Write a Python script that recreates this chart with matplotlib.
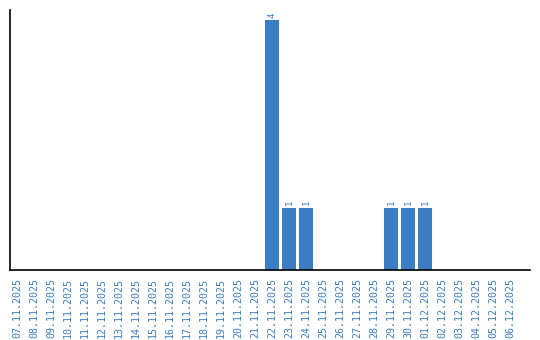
import matplotlib
matplotlib.use("Agg")
import matplotlib.pyplot as plt

dates = ["07.11.2025", "08.11.2025", "09.11.2025", "10.11.2025", "11.11.2025",
         "12.11.2025", "13.11.2025", "14.11.2025", "15.11.2025", "16.11.2025",
         "17.11.2025", "18.11.2025", "19.11.2025", "20.11.2025", "21.11.2025",
         "22.11.2025", "23.11.2025", "24.11.2025", "25.11.2025", "26.11.2025",
         "27.11.2025", "28.11.2025", "29.11.2025", "30.11.2025", "01.12.2025",
         "02.12.2025", "03.12.2025", "04.12.2025", "05.12.2025", "06.12.2025"]
counts = [0, 0, 0, 0, 0, 0, 0, 0, 0, 0, 0, 0, 0, 0, 0,
          4, 1, 1, 0, 0, 0, 0, 1, 1, 1, 0, 0, 0, 0, 0]

bar_color = "#3b7dc4"
text_color = "#3a7dc4"

fig = plt.figure(figsize=(5.4, 3.4), dpi=100)
ax = fig.add_axes([10/540, 70/340, 520/540, 260/340])

x = list(range(len(dates)))
ax.bar(x, counts, width=0.82, color=bar_color)

for xi, c in zip(x, counts):
    if c > 0:
        ax.text(xi, c + 0.04, str(c), rotation=90, ha="center", va="bottom",
                color=text_color, fontsize=6.5, family="DejaVu Sans Mono")

ax.set_xlim(-0.41, 30.18)
ax.set_ylim(0, 4.16)
ax.set_xticks(x)
ax.set_xticklabels(dates, rotation=90, fontsize=7.2, family="DejaVu Sans Mono",
                   color=text_color)
ax.tick_params(axis="x", length=0, pad=6)
ax.set_yticks([])
for s in ["top", "right"]:
    ax.spines[s].set_visible(False)
ax.spines["left"].set_linewidth(1.2)
ax.spines["bottom"].set_linewidth(1.2)

fig.savefig("out.png", dpi=100)
